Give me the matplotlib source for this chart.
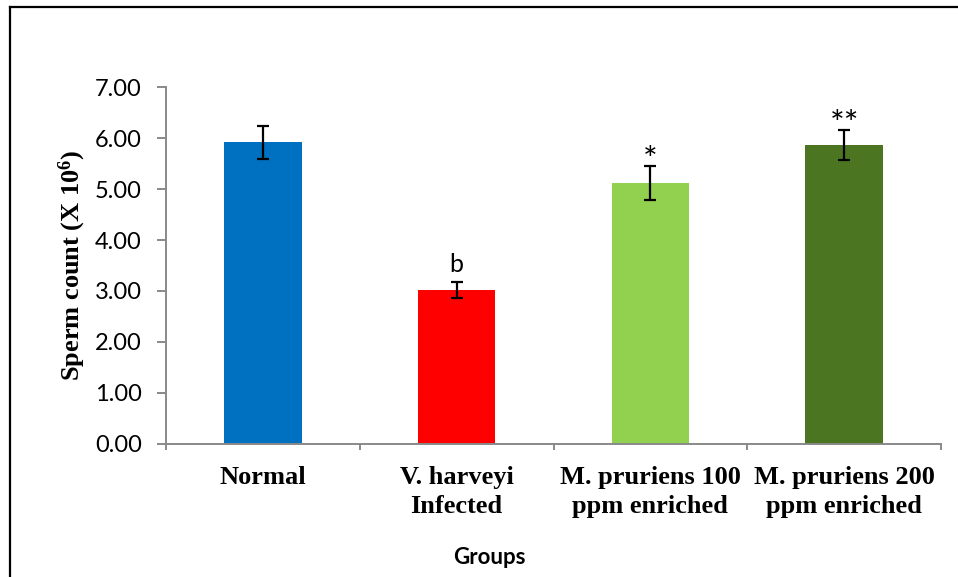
import matplotlib
matplotlib.use('Agg')
import matplotlib.pyplot as plt
from matplotlib.lines import Line2D
import numpy as np

# values
groups = ['Normal', 'V. harveyi\nInfected', 'M. pruriens 100\nppm enriched', 'M. pruriens 200\nppm enriched']
sperm_count = [5.92, 3.02, 5.12, 5.87]
sem = [0.32, 0.16, 0.34, 0.30]
signif = ['', 'b', '*', '**']
bar_colors = ['#0070C0', '#FF0000', '#92D050', '#4C7522']
yticks = [0, 1, 2, 3, 4, 5, 6, 7]

plt.rcParams['mathtext.fontset'] = 'custom'
plt.rcParams['mathtext.rm'] = 'Liberation Serif:bold'
plt.rcParams['mathtext.default'] = 'rm'

W, H = 958, 577
fig = plt.figure(figsize=(W / 100, H / 100), dpi=100)
ax = fig.add_axes([166 / W, 1 - 443.7 / H, (941 - 166) / W, (443.7 - 87.3) / H])

x = np.arange(len(groups))
ax.bar(x, sperm_count, width=0.40, color=bar_colors, zorder=2)
ax.errorbar(x, sperm_count, yerr=sem, fmt='none', ecolor='black',
            elinewidth=1.6, capsize=4.5, capthick=1.6, zorder=3)

# significance marks above the error bars
for xi, v, e, s in zip(x, sperm_count, sem, signif):
    if not s:
        continue
    if s == 'b':
        ax.annotate(s, (xi, v + e), xytext=(0, 7), textcoords='offset points',
                    ha='center', va='baseline', fontsize=18, family='Lato')
    else:
        ax.annotate(s, (xi, v + e), xytext=(0, -4), textcoords='offset points',
                    ha='center', va='baseline', fontsize=25, family='Lato')

ax.set_xlim(-0.5, len(groups) - 0.5)
ax.set_ylim(0, 7)
ax.set_yticks(yticks)
ax.set_yticklabels(['{:.2f}'.format(t) for t in yticks], family='Lato', fontsize=17)

ax.set_xticks(x)
ax.set_xticklabels(groups, family='Liberation Serif', fontweight='bold', fontsize=19,
                   linespacing=1.35)
ax.set_xticks(np.arange(len(groups) + 1) - 0.5, minor=True)

axis_grey = '#898989'
for side in ['top', 'right']:
    ax.spines[side].set_visible(False)
for side in ['left', 'bottom']:
    ax.spines[side].set_color(axis_grey)
    ax.spines[side].set_linewidth(1.4)

ax.tick_params(axis='y', which='major', length=6.5, width=1.4, color=axis_grey, pad=11)
ax.tick_params(axis='x', which='major', length=0, pad=16)
ax.tick_params(axis='x', which='minor', length=4.5, width=1.4, color=axis_grey)

ax.set_ylabel('Sperm count (X 10$^{6}$)', family='Liberation Serif', fontweight='bold',
              fontsize=19, labelpad=5)
fig.text(489 / W, 1 - 557 / H, 'Groups', family='Lato', fontweight='bold',
         fontsize=16, ha='center', va='center')

# outer frame of the chart area (only top and left edges are visible)
fig.add_artist(Line2D([9.5 / W, 1], [1 - 7 / H, 1 - 7 / H], color='black', lw=1.6,
                      transform=fig.transFigure))
fig.add_artist(Line2D([9.5 / W, 9.5 / W], [0, 1 - 7 / H], color='black', lw=1.6,
                      transform=fig.transFigure))

fig.savefig('out.png', dpi=100)
